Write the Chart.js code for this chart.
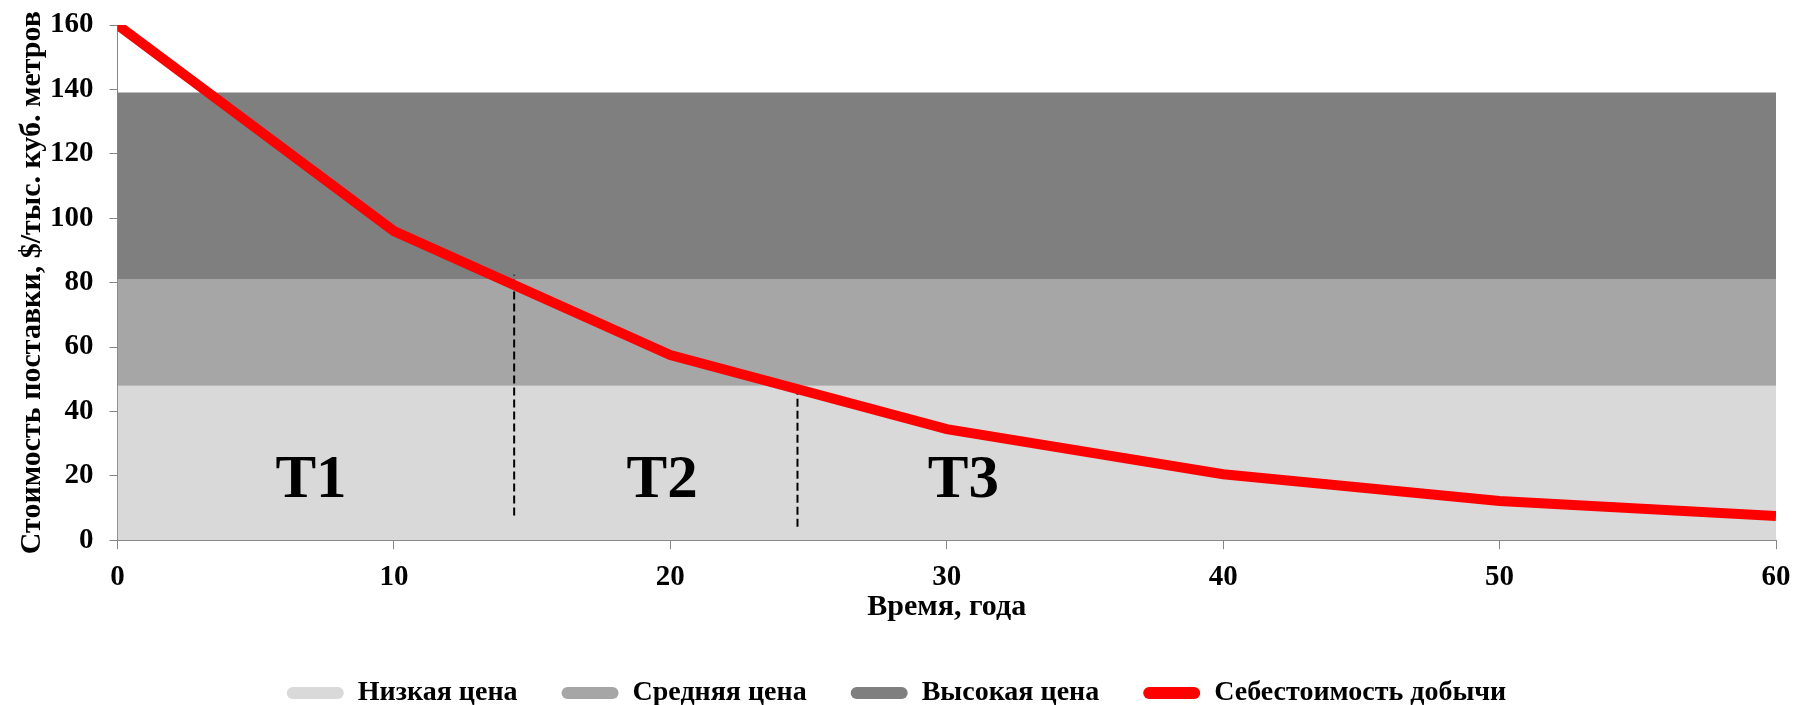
<!DOCTYPE html>
<html>
<head>
<meta charset="utf-8">
<script src="https://cdn.jsdelivr.net/npm/chart.js@4"></script>
<style>
  html, body { margin: 0; padding: 0; background: #fff; }
  #wrap { width: 1796px; height: 705px; }
</style>
</head>
<body>
<div id="wrap"><canvas id="chart"></canvas></div>
<script>
// данные графика
const years = [0, 10, 20, 30, 40, 50, 60];
const cost = [160, 96, 57.5, 34.5, 20.5, 12.2, 7.5];

// ценовые уровни (верхняя граница полосы)
const lowPrice = 48;
const midPrice = 81;
const highPrice = 139;

// пунктирные границы периодов: [год, низ, верх]
const border1 = [14.35, 7.7, 82.4];
const border2 = [24.6, 4.2, 45.7];

// подписи периодов
const periodNames = ['T1', 'T2', 'T3'];
const periodX = [7, 19.7, 30.6];
const periodY = [13.5, 13.3, 13.5];

const FONT = '"Liberation Serif", "Times New Roman", serif';
const AXIS = '#868686';

const band = (label, v, color, fill, order) => ({
  label, data: [{x: 0, y: v}, {x: 60, y: v}],
  backgroundColor: color, borderColor: color, borderWidth: 0,
  pointRadius: 0, fill, order
});

const dashed = (b) => ({
  label: '', data: [{x: b[0], y: b[1]}, {x: b[0], y: b[2]}],
  borderColor: '#000', borderWidth: 2, borderDash: [8, 4],
  pointRadius: 0, fill: false, order: 0
});

// подписи T1..T3 через шкалы графика
const periodLabels = {
  id: 'periodLabels',
  afterDatasetsDraw(chart) {
    const {ctx, scales: {x, y}} = chart;
    ctx.save();
    ctx.font = 'bold 61px ' + FONT;
    ctx.fillStyle = '#000';
    ctx.textAlign = 'center';
    ctx.textBaseline = 'alphabetic';
    periodNames.forEach((t, i) => {
      ctx.fillText(t, x.getPixelForValue(periodX[i]), y.getPixelForValue(periodY[i]));
    });
    ctx.restore();
  }
};

new Chart(document.getElementById('chart'), {
  type: 'line',
  data: {
    datasets: [
      band('Низкая цена', lowPrice, '#d9d9d9', 'origin', 3),
      band('Средняя цена', midPrice, '#a6a6a6', '-1', 2),
      band('Высокая цена', highPrice, '#7f7f7f', '-1', 1),
      {
        label: 'Себестоимость добычи',
        data: years.map((t, i) => ({x: t, y: cost[i]})),
        borderColor: '#ff0000', backgroundColor: '#ff0000',
        borderWidth: 10, pointRadius: 0, fill: false, order: -1
      },
      dashed(border1),
      dashed(border2)
    ]
  },
  options: {
    responsive: true,
    maintainAspectRatio: false,
    animation: false,
    layout: { padding: { top: 0, right: 20, left: 17, bottom: -12 } },
    plugins: {
      tooltip: { enabled: false },
      legend: {
        position: 'bottom',
        labels: {
          font: { family: FONT, size: 28, weight: 'bold' },
          color: '#000',
          boxWidth: 57, boxHeight: 12,
          useBorderRadius: true, borderRadius: 6,
          padding: 44,
          filter: (item) => item.text !== '',
          sort: (a, b) => a.datasetIndex - b.datasetIndex,
          generateLabels: (chart) =>
            Chart.defaults.plugins.legend.labels.generateLabels(chart)
              .map(l => Object.assign(l, { lineWidth: 0, strokeStyle: 'transparent' }))
        }
      }
    },
    scales: {
      x: {
        type: 'linear', min: 0, max: 60,
        ticks: { stepSize: 10, color: '#000', padding: 11,
          font: { family: FONT, size: 29, weight: 'bold' } },
        grid: { drawOnChartArea: false, tickLength: 9, color: AXIS },
        border: { color: AXIS },
        afterFit: (scale) => { scale.paddingLeft = 0; scale.paddingRight = 0; },
        title: { display: true, text: 'Время, года', color: '#000',
          font: { family: FONT, size: 30, weight: 'bold', lineHeight: 1 },
          padding: { top: -14, bottom: 13 } }
      },
      y: {
        min: 0, max: 160,
        ticks: { stepSize: 20, color: '#000', padding: 16,
          font: { family: FONT, size: 29, weight: 'bold' } },
        grid: { drawOnChartArea: false, tickLength: 8, color: AXIS },
        border: { color: AXIS },
        // отступ сверху без учёта ticks.padding
        afterFit: (scale) => { scale.paddingTop = 25; },
        title: { display: true, text: 'Стоимость поставки, $/тыс. куб. метров', color: '#000',
          font: { family: FONT, size: 30, weight: 'bold', lineHeight: 1 },
          padding: { top: 0, bottom: -13 } }
      }
    }
  },
  plugins: [periodLabels]
});
</script>
</body>
</html>
